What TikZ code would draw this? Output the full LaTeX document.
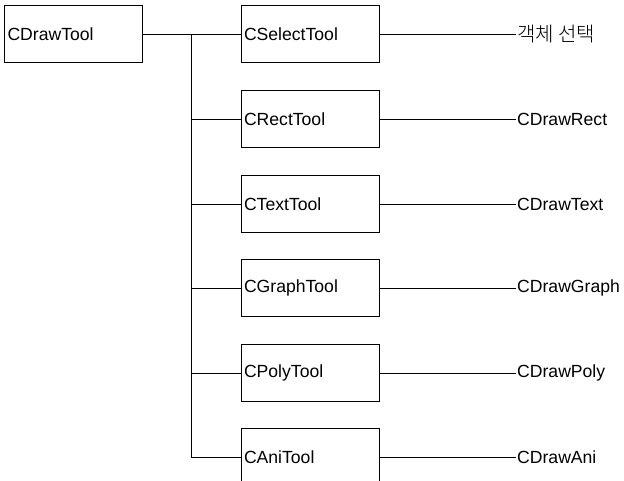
\documentclass[tikz,border=0pt]{standalone}
\usepackage{fontspec}
\setmainfont{Liberation Sans}
\newfontfamily\krfont{Noto Sans CJK KR Light}
\usetikzlibrary{positioning}
\tikzset{
  toolbox/.style={rectangle,draw=black,line width=0.8pt,fill=white,text width=132pt,inner xsep=3pt,inner ysep=0pt,
    minimum height=57pt,align=left,font=\fontsize{17.6}{21}\selectfont},
  objlbl/.style={anchor=west,inner sep=1pt,font=\fontsize{17.6}{21}\selectfont},
  link/.style={draw=black,line width=0.8pt}
}
\begin{document}
\begin{tikzpicture}[x=1pt,y=-1pt]
\path[use as bounding box,fill=white] (0,0) rectangle (624,481);

\node[toolbox] (drawtool) at (73.5,34) {CDrawTool};

\node[toolbox] (selecttool) at (310,34) {CSelectTool};
\node[toolbox] (recttool) at (310,119) {CRectTool};
\node[toolbox] (texttool) at (310,204) {CTextTool};
\node[toolbox] (graphtool) at (310,288) {CGraphTool};
\node[toolbox] (polytool) at (310,373) {CPolyTool};
\node[toolbox] (anitool) at (310,457) {CAniTool};

\node[objlbl] (selectobj) at (516,34) {\krfont\fontsize{20}{24}\selectfont 객체 선택};
\node[objlbl] (drawrect) at (516,119) {CDrawRect};
\node[objlbl] (drawtext) at (516,204) {CDrawText};
\node[objlbl] (drawgraph) at (516,288) {CDrawGraph};
\node[objlbl] (drawpoly) at (516,373) {CDrawPoly};
\node[objlbl] (drawani) at (516,457) {CDrawAni};

\coordinate (trunk) at (191,34);
\draw[link] (drawtool.east) -- (selecttool.west);
\draw[link] (trunk) |- (anitool.west);
\draw[link] (trunk |- recttool.west) -- (recttool.west);
\draw[link] (trunk |- texttool.west) -- (texttool.west);
\draw[link] (trunk |- graphtool.west) -- (graphtool.west);
\draw[link] (trunk |- polytool.west) -- (polytool.west);

\draw[link] (selecttool.east) -- (selectobj.west);
\draw[link] (recttool.east) -- (drawrect.west);
\draw[link] (texttool.east) -- (drawtext.west);
\draw[link] (graphtool.east) -- (drawgraph.west);
\draw[link] (polytool.east) -- (drawpoly.west);
\draw[link] (anitool.east) -- (drawani.west);
\end{tikzpicture}
\end{document}
